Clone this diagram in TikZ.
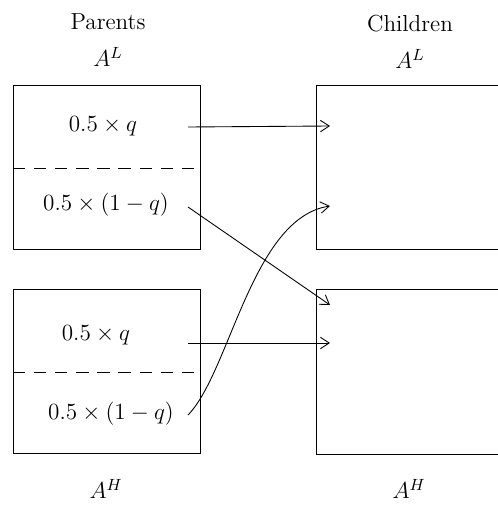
\RequirePackage{fix-cm}
\documentclass[tikz,border=0pt]{standalone}
\usepackage{amsmath}
\usetikzlibrary{arrows.meta, positioning}

\begin{document}
\begin{tikzpicture}[
    x=0.02cm, y=-0.02cm,
    pop/.style={draw, line width=0.5pt},
    share/.style={font=\fontsize{13.2pt}{16pt}\selectfont},
    head/.style={font=\fontsize{13.2pt}{16pt}\selectfont},
    split/.style={dashed, dash pattern=on 7pt off 5pt, line width=0.5pt},
    flow/.style={-{Straight Barb[length=5pt, width=6.5pt]}, line width=0.5pt}
]
    \useasboundingbox (0,0) rectangle (497,506);

    % Column headings
    \node[head] (par) at (108,22) {Parents};
    \node[head] (parL) at (108,57) {$A^L$};
    \node[head] (chi) at (410,24) {Children};
    \node[head] (chiL) at (410,59) {$A^L$};
    \node[head] (parH) at (106,489) {$A^H$};
    \node[head] (chiH) at (409,489) {$A^H$};

    % Parent boxes
    \draw[pop] (13,85) rectangle (200,249);
    \draw[pop] (13,289) rectangle (200,453);
    \draw[split] (13,168) -- (200,168);
    \draw[split] (13,372) -- (200,372);

    % Children boxes (cut at the right edge)
    \draw[pop] (530,85) -- (316,85) -- (316,249) -- (530,249);
    \draw[pop] (530,289) -- (316,289) -- (316,454) -- (530,454);

    % Shares in parent boxes
    \node[share] (lq) at (103,126) {$0.5 \times q$};
    \node[share] (lr) at (106,205) {$0.5 \times (1-q)$};
    \node[share] (hq) at (96,335) {$0.5 \times q$};
    \node[share] (hr) at (111,414) {$0.5 \times (1-q)$};

    % Start and end points of the links
    \coordinate (lqs) at (188,127);
    \coordinate (lrs) at (188,207);
    \coordinate (hqs) at (188,343);
    \coordinate (hrs) at (188,415);
    \coordinate (clq) at (330,126);
    \coordinate (clr) at (330,206);
    \coordinate (chr) at (330,305);
    \coordinate (chq) at (330,343);

    % Links
    \draw[flow] (lqs) -- (clq);
    \draw[flow] (lrs) -- (chr);
    \draw[flow] (hqs) -- (chq);
    \draw[flow] (hrs) .. controls (230,372) and (252,218) .. (clr);
\end{tikzpicture}
\end{document}
